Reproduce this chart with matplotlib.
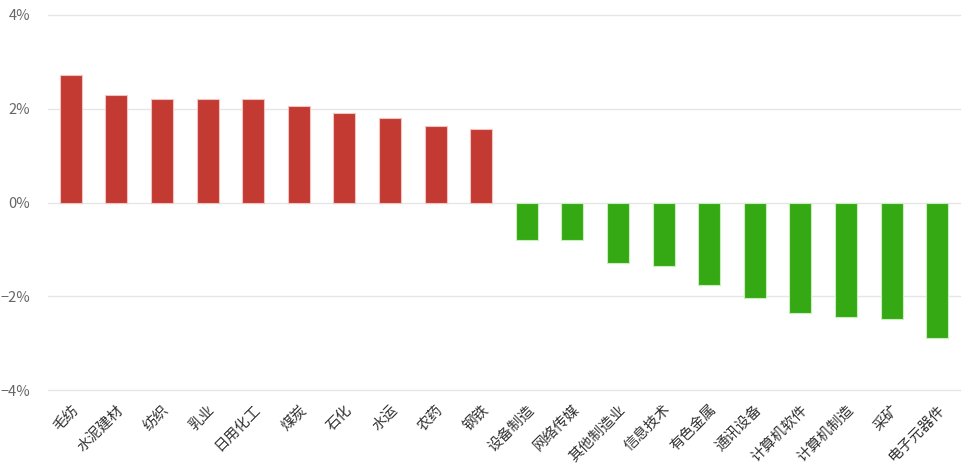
import matplotlib
matplotlib.use("Agg")
import matplotlib.pyplot as plt
from matplotlib.ticker import FuncFormatter

plt.rcParams["font.family"] = ["Noto Sans CJK SC", "DejaVu Sans"]
plt.rcParams["axes.unicode_minus"] = True

# industry daily change, percent
industries = [
    "毛纺", "水泥建材", "纺织", "乳业", "日用化工", "煤炭", "石化", "水运", "农药", "钢铁",
    "设备制造", "网络传媒", "其他制造业", "信息技术", "有色金属", "通讯设备",
    "计算机软件", "计算机制造", "采矿", "电子元器件",
]
changes = [
    2.73, 2.29, 2.21, 2.21, 2.21, 2.06, 1.91, 1.80, 1.64, 1.57,
    -0.81, -0.81, -1.29, -1.35, -1.76, -2.03, -2.35, -2.45, -2.48, -2.88,
]
y_ticks = [-4, -2, 0, 2, 4]

UP = "#c23a32"
DOWN = "#34a914"

fig = plt.figure(figsize=(9.68, 4.75), dpi=100)
ax = fig.add_axes([48 / 968, 1 - 390 / 475, 912 / 968, 375 / 475])

x = list(range(len(industries)))
colors = [UP if v >= 0 else DOWN for v in changes]
edges = ["#f2c4c1" if v >= 0 else "#c8efbd" for v in changes]
ax.bar(x, changes, width=0.48, color=colors, edgecolor=edges, linewidth=0.8, zorder=3)

ax.set_xlim(-0.5, len(industries) - 0.5)
ax.set_ylim(-4, 4)
ax.set_yticks(y_ticks)
ax.yaxis.set_major_formatter(FuncFormatter(lambda v, _: f"{v:.0f}%".replace("-", "\u2212")))
for t in y_ticks:
    ax.axhline(t, color="#e6e6e6", linewidth=1, zorder=0, clip_on=False)
for s in ax.spines.values():
    s.set_visible(False)

ax.set_xticks(x)
ax.set_xticklabels(industries, rotation=45, ha="right", rotation_mode="anchor",
                   fontsize=10.5, color="#333333")
ax.tick_params(axis="x", length=0, pad=9)
ax.tick_params(axis="y", length=0, pad=13, labelsize=10.5, labelcolor="#666666")

fig.savefig("out.png", dpi=100)
